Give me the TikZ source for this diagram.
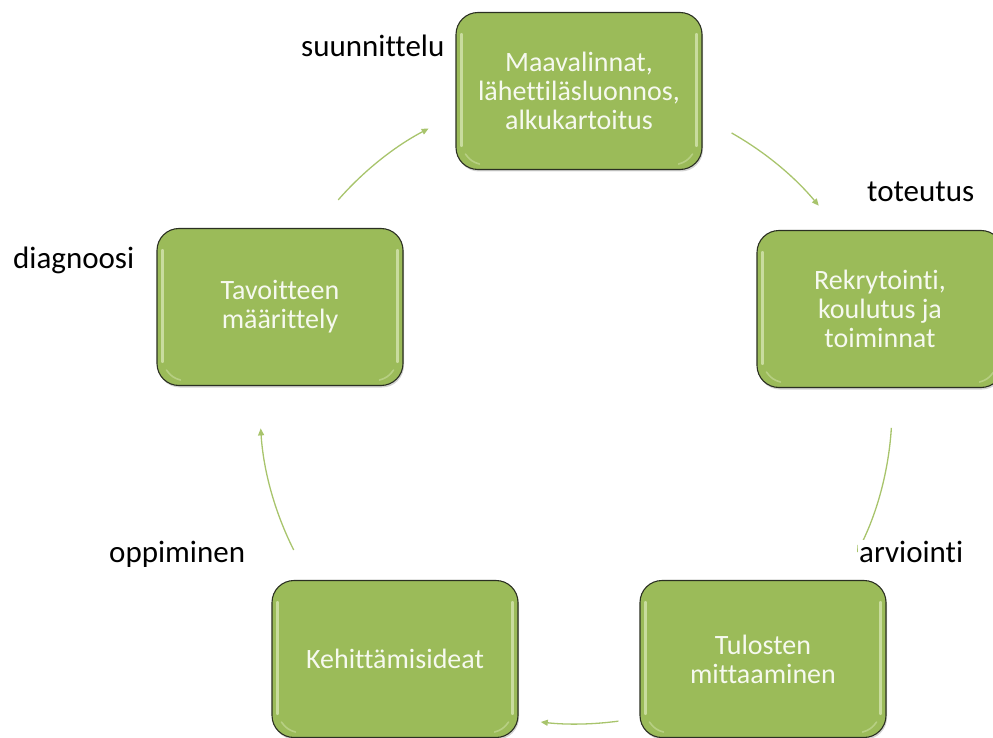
\documentclass[tikz,border=0pt]{standalone}
\usepackage{fontspec}
\setmainfont{Carlito}[Ligatures=CommonOff]
\usetikzlibrary{arrows.meta,calc,shadows}
\definecolor{boxgreen}{HTML}{9BBB59}
\definecolor{boxedge}{HTML}{2B3022}
\definecolor{boxglow}{HTML}{E2EFC4}
\definecolor{boxtext}{HTML}{F6F9EF}
\definecolor{arcgreen}{HTML}{A8C46C}
\begin{document}
\begin{tikzpicture}[x=1pt,y=-1pt,
  stagebox/.style={draw=boxedge, line width=1.1pt, fill=boxgreen,
    rounded corners=22pt, minimum width=246pt, minimum height=157pt,
    align=center, text=boxtext, font=\fontsize{28}{29}\selectfont,
    drop shadow={shadow xshift=1pt, shadow yshift=-2pt, opacity=0.35}},
  phase/.style={font=\fontsize{31}{33}\selectfont, text=black, inner sep=1pt},
  flow/.style={draw=arcgreen, line width=1.3pt,
    -{Triangle[length=7pt,width=6pt]}}
]
\useasboundingbox (0,0) rectangle (993,738);
\clip (0,0) rectangle (993,738);

% cycle centre
\coordinate (C) at (576,408);

% the five stages
\node[stagebox] (plan)  at (579,91)  {Maavalinnat,\\lähettiläsluonnos,\\alkukartoitus};
\node[stagebox] (run)   at (880,309) {Rekrytointi,\\koulutus ja\\toiminnat};
\node[stagebox] (meas)  at (763,659) {Tulosten\\mittaaminen};
\node[stagebox] (ideas) at (395,659) {Kehittämisideat};
\node[stagebox] (goal)  at (280,307) {Tavoitteen\\määrittely};

% light bevel strips along the sides of each box
\foreach \b in {plan,run,meas,ideas,goal}{
  \draw[boxglow, line width=2.2pt, opacity=0.65, line cap=round]
    ($(\b.north west)+(6,22)$) -- ($(\b.south west)+(6,-24)$);
  \draw[boxglow, line width=2.2pt, opacity=0.65, line cap=round]
    ($(\b.north east)+(-6,22)$) -- ($(\b.south east)+(-6,-24)$);
  \draw[boxglow, line width=1.6pt, opacity=0.4, line cap=round]
    ($(\b.south west)+(10,-16)$) to[bend right=20] ($(\b.south west)+(24,-6)$);
  \draw[boxglow, line width=1.6pt, opacity=0.4, line cap=round]
    ($(\b.south east)+(-10,-16)$) to[bend left=20] ($(\b.south east)+(-24,-6)$);
}

% arc connectors on the cycle circle
\coordinate (s1) at ($(C)+(-60.5:316)$);
\coordinate (s2) at ($(C)+(3.6:316)$);
\coordinate (s3) at ($(C)+(82.3:316)$);
\coordinate (s4) at ($(C)+(-206.7:316)$);
\coordinate (s5) at ($(C)+(-138.8:316)$);
\draw[flow] (s1) arc[start angle=-60.5, end angle=-39.8, radius=316];
\draw[flow] (s2) arc[start angle=3.6, end angle=27.2, radius=316];
\draw[flow] (s3) arc[start angle=82.3, end angle=96.4, radius=316];
\draw[flow] (s4) arc[start angle=-206.7, end angle=-183.7, radius=316];
\draw[flow] (s5) arc[start angle=-138.8, end angle=-117.8, radius=316];

% phase labels (the evaluation label sits over the end of its arc)
\node[phase, anchor=base west] (l1) at (300,57)  {suunnittelu};
\node[phase, anchor=base west] (l2) at (866,202) {toteutus};
\node[phase, anchor=base west, fill=white] (l3) at (858,562) {arviointi};
\node[phase, anchor=base west] (l4) at (108,562) {oppiminen};
\node[phase, anchor=base west] (l5) at (12,268)  {diagnoosi};
\end{tikzpicture}
\end{document}
